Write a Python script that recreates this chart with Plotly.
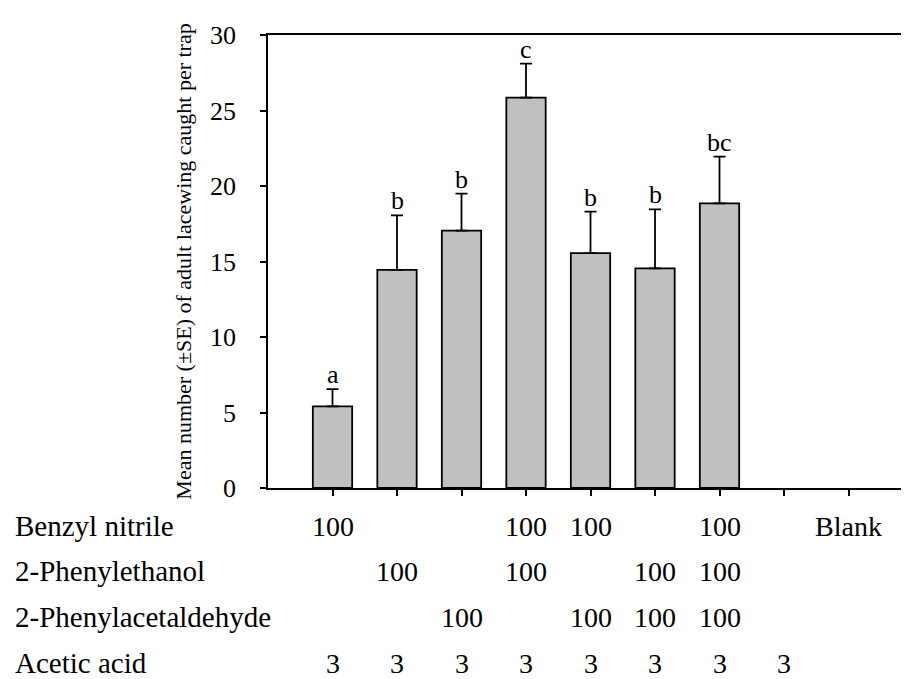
import plotly.graph_objects as go

positions = [1, 2, 3, 4, 5, 6, 7, 8, 9]
means = [5.4, 14.45, 17.05, 25.85, 15.55, 14.55, 18.85, 0, 0]
upper = [6.55, 18.05, 19.5, 28.1, 18.3, 18.45, 21.95, 0, 0]
letters = ["a", "b", "b", "c", "b", "b", "bc", "", ""]

row_labels = ["Benzyl nitrile", "2-Phenylethanol", "2-Phenylacetaldehyde", "Acetic acid"]
row_benzyl = ["100", "", "", "100", "100", "", "100", "", "Blank"]
row_phenylethanol = ["", "100", "", "100", "", "100", "100", "", ""]
row_phenylacetaldehyde = ["", "", "100", "", "100", "100", "100", "", ""]
row_acetic = ["3", "3", "3", "3", "3", "3", "3", "3", ""]
table_rows = [row_benzyl, row_phenylethanol, row_phenylacetaldehyde, row_acetic]

yticks = [0, 5, 10, 15, 20, 25, 30]

FONT = "'Liberation Serif', 'Times New Roman', 'DejaVu Serif', serif"
OFF = 8  # default page body margin
W, H = 909 - OFF, 679 - OFF
L, T, B = 260, 27, 191
plot_h = H - T - B
plot_w = W - L
px_per_cat = 64.5

err_plus = [u - m for m, u in zip(means, upper)]

fig = go.Figure()
fig.add_trace(go.Bar(
    x=positions[:7], y=means[:7], width=0.61,
    marker=dict(color="#c0c0c0", line=dict(color="black", width=1.8)),
    error_y=dict(type="data", symmetric=False, array=err_plus[:7],
                 arrayminus=[0] * 7, color="black", thickness=1.8, width=6),
    showlegend=False,
))

annotations = []
for x, u, lab in zip(positions, upper, letters):
    if lab:
        annotations.append(dict(x=x, y=u, xref="x", yref="y", text=lab,
                                showarrow=False, yanchor="bottom", yshift=-2,
                                font=dict(family=FONT, size=26, color="black")))

row_py = [526, 571, 617, 663]  # page pixel centres
for lab, vals, py in zip(row_labels, table_rows, row_py):
    yp = (H - B - (py - OFF)) / plot_h
    annotations.append(dict(x=(13 - OFF - L) / plot_w, y=yp, xref="paper", yref="paper",
                            text=lab, showarrow=False, xanchor="left", yanchor="middle",
                            font=dict(family=FONT, size=29, color="black")))
    for x, v in zip(positions, vals):
        if v:
            annotations.append(dict(x=x, y=yp, xref="x", yref="paper", text=v,
                                    showarrow=False, xanchor="center", yanchor="middle",
                                    font=dict(family=FONT, size=28, color="black")))

fig.update_layout(
    width=W, height=H,
    margin=dict(l=L, r=0, t=T, b=B),
    plot_bgcolor="white", paper_bgcolor="white",
    font=dict(family=FONT, size=26, color="black"),
    annotations=annotations,
    xaxis=dict(range=[0, plot_w / px_per_cat], tickvals=positions, showticklabels=False,
               ticks="outside", ticklen=6, tickwidth=1.8, tickcolor="black",
               showline=True, linecolor="black", linewidth=1.8, mirror=True,
               showgrid=False, zeroline=False, fixedrange=True),
    yaxis=dict(range=[0, 30], tickvals=yticks, ticks="outside", ticklen=6,
               tickwidth=1.8, tickcolor="black", showline=True, linecolor="black",
               linewidth=1.8, showgrid=False, zeroline=False,
               ticklabelstandoff=19,
               tickfont=dict(family=FONT, size=26),
               title=dict(text="Mean number (±SE) of adult lacewing caught per trap",
                          font=dict(family=FONT, size=22), standoff=12)),
)

fig.write_html("out.html")
